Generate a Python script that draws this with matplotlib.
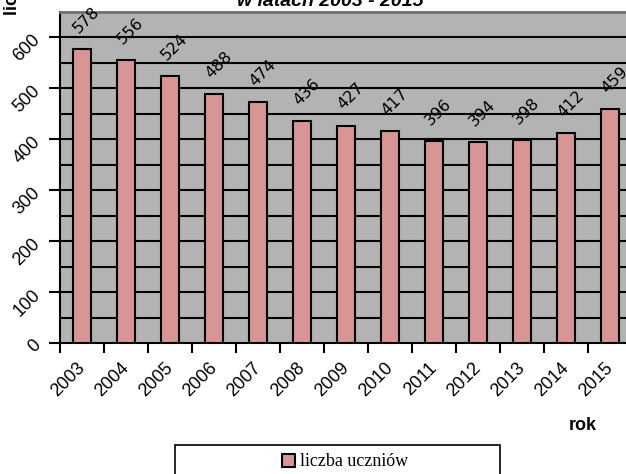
import matplotlib
matplotlib.use("Agg")
import matplotlib.pyplot as plt
from matplotlib.patches import Rectangle
import numpy as np

years = ["2003", "2004", "2005", "2006", "2007", "2008", "2009",
         "2010", "2011", "2012", "2013", "2014", "2015"]
students = [578, 556, 524, 488, 474, 436, 427, 417, 396, 394, 398, 412, 459]
y_ticks = [0, 100, 200, 300, 400, 500, 600]

plt.rcParams['font.family'] = ['Liberation Sans', 'DejaVu Sans']

fig = plt.figure(figsize=(6.26, 4.74), dpi=100)
W, H = 626, 474
ax = fig.add_axes([60 / W, 1 - 343 / H, 572 / W, 331 / H])
ax.set_facecolor("#b3b3b3")

x = np.arange(len(years))
bars = ax.bar(x, students, width=0.4, color="#d99594", edgecolor="black",
              linewidth=1.5, zorder=3)

# gridlines every 50
for v in range(50, 650, 50):
    ax.axhline(v, color="black", linewidth=1.5, zorder=1)

for xi, v in zip(x, students):
    ax.annotate(str(v), (xi, v), xytext=(-1, 13), textcoords="offset pixels",
                rotation=45, rotation_mode="anchor", ha="left", va="bottom",
                fontsize=11.5, family="DejaVu Sans", zorder=5)

ax.set_xlim(-0.5, len(years) - 0.5)
ax.set_ylim(0, 650)

ax.set_xticks(x)
ax.set_xticklabels(years, rotation=45, ha="right", va="center",
                   rotation_mode="anchor", fontsize=13)
ax.tick_params(axis="x", which="major", length=0, pad=16)
ax.set_xticks(np.arange(len(years)) - 0.5, minor=True)
ax.tick_params(axis="x", which="minor", direction="out", length=7,
               width=1.5, color="black")

ax.set_yticks(y_ticks)
ax.set_yticklabels([str(t) for t in y_ticks], rotation=45, ha="right",
                   va="center", rotation_mode="anchor", fontsize=13)
ax.tick_params(axis="y", direction="out", length=8, width=1.5, pad=8)

ax.spines["left"].set_linewidth(1.5)
ax.spines["bottom"].set_linewidth(1.5)
ax.spines["right"].set_visible(False)
ax.spines["top"].set_color("#707070")
ax.spines["top"].set_linewidth(2)

fig.text(583 / W, 1 - 425 / H, "rok", fontsize=13, fontweight="bold",
         ha="center", va="center")
fig.text(330 / W, 1 - 6 / H, "w latach 2003 - 2015", fontsize=14,
         fontweight="bold", fontstyle="italic", ha="center", va="baseline")
fig.text(13 / W, 1 - 15 / H, "liczba uczniów", fontsize=13,
         fontweight="bold", rotation=90, ha="center", va="bottom")

fig.patches.append(Rectangle((175 / W, -0.1), 325 / W, 0.1 + 29 / H,
                             transform=fig.transFigure, facecolor="white",
                             edgecolor="black", linewidth=1.2))
fig.legend([bars], ["liczba uczniów"], loc="center",
           bbox_to_anchor=(345 / W, 1 - 462 / H), frameon=False,
           prop={"family": "Liberation Serif", "size": 13},
           handlelength=0.7, handleheight=0.7, handletextpad=0.3)

fig.savefig("out.png", dpi=100)
